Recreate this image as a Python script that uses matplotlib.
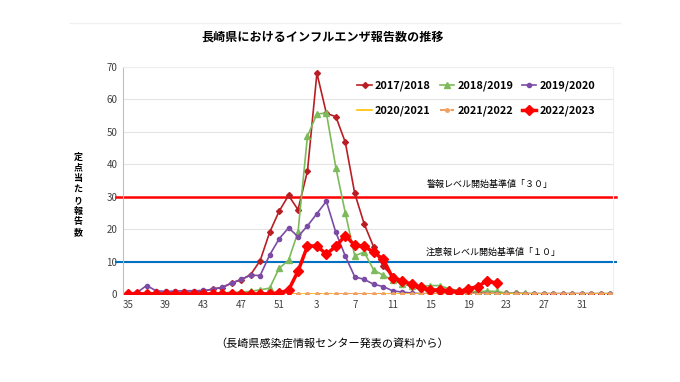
import numpy as np
import matplotlib
matplotlib.use('Agg')
import matplotlib.pyplot as plt

plt.rcParams['font.family'] = ['Noto Sans CJK JP', 'DejaVu Sans']

# 週番号 (35週〜翌年34週)
weeks = list(range(35, 53)) + list(range(1, 35))

# 各シーズンの定点当たり報告数
s2017 = [0.2, 0.2, 0.3, 0.3, 0.3, 0.4, 0.5, 0.6, 0.8, 1.6, 2.0, 3.4, 4.4, 6.0, 10.3, 19.0,
         25.5, 30.4, 26.0, 37.9, 68.1, 55.7, 54.7, 46.8, 31.0, 21.6, 14.5, 8.5, 5.5, 3.5, 2.2, 1.4,
         1.0, 0.7, 0.5, 0.4, 0.3, 0.3, 0.2, 0.2, 0.2, 0.2, 0.1, 0.1, 0.1, 0.1, 0.1, 0.1,
         0.1, 0.1, 0.1, 0.1]
s2018 = [0.2, 0.2, 0.2, 0.2, 0.2, 0.2, 0.2, 0.3, 0.3, 0.3, 0.4, 0.5, 0.6, 0.8, 1.3, 1.8,
         7.9, 10.4, 19.1, 48.7, 55.5, 55.8, 39.0, 25.0, 11.8, 12.9, 7.4, 5.8, 4.2, 3.2, 2.6, 2.3,
         2.6, 2.6, 1.6, 1.0, 0.8, 0.7, 0.9, 0.8, 0.3, 0.2, 0.2, 0.1, 0.1, 0.1, 0.1, 0.1,
         0.1, 0.1, 0.1, 0.1]
s2019 = [0.3, 0.5, 2.6, 1.0, 0.8, 0.9, 1.0, 1.0, 1.1, 1.4, 2.1, 3.4, 4.5, 5.8, 5.7, 12.0,
         17.0, 20.4, 17.7, 21.0, 24.8, 28.6, 19.0, 11.7, 5.3, 4.5, 3.0, 2.3, 1.0, 0.6, 0.3, 0.1,
         0.1, 0.1, 0.1, 0.1, 0.0, 0.0, 0.0, 0.0, 0.0, 0.0, 0.0, 0.0, 0.0, 0.0, 0.0, 0.0,
         0.0, 0.0, 0.0, 0.0]
s2020 = [0.0] * 52
s2021 = [0.0] * 52
s2022 = [0.0, 0.0, 0.0, 0.0, 0.0, 0.0, 0.0, 0.0, 0.0, 0.0, 0.0, 0.0, 0.0, 0.0, 0.0, 0.1,
         0.3, 1.2, 7.0, 14.8, 14.8, 12.3, 14.7, 18.0, 15.0, 14.8, 12.8, 10.8, 5.0, 4.1, 3.0, 2.1,
         1.2, 1.3, 1.0, 0.7, 1.6, 2.3, 4.1, 3.3]

seasons = ['2017/2018', '2018/2019', '2019/2020', '2020/2021', '2021/2022', '2022/2023']

warn_level = 30
alert_level = 10

fig = plt.figure(figsize=(6.8, 3.82), dpi=100)
ax = fig.add_axes([123 / 680, 1 - 294 / 382, 490 / 680, 227 / 382])

x = np.arange(len(weeks))

h1, = ax.plot(x, s2017, color='#B81E24', lw=1.2, marker='D', ms=3, label=seasons[0])
h2, = ax.plot(x, s2018, color='#7DBA5A', lw=1.2, marker='^', ms=4, label=seasons[1])
h3, = ax.plot(x, s2019, color='#7B4BA5', lw=1.2, marker='o', ms=3, label=seasons[2])
h4, = ax.plot(x, s2020, color='#FFC000', lw=1.2, label=seasons[3])
h5, = ax.plot(x, s2021, color='#F0A060', lw=1.5, ls=(0, (3, 2)), marker='o', ms=2.5,
              label=seasons[4])
h6, = ax.plot(np.arange(len(s2022)), s2022, color='#FF0000', lw=2.5, marker='D', ms=5,
              label=seasons[5])

# 基準値の横線
ax.plot([-1.2, 51.6], [warn_level, warn_level], color='#FF0000', lw=1.8, clip_on=False, zorder=1)
ax.plot([-1.2, 51.6], [alert_level, alert_level], color='#0070C0', lw=1.5, clip_on=False, zorder=1)
fig.text(427 / 680, 1 - 184 / 382, '警報レベル開始基準値「３０」', fontsize=6.5,
         va='center', ha='left')
fig.text(426 / 680, 1 - 252 / 382, '注意報レベル開始基準値「１０」', fontsize=6.5,
         va='center', ha='left')

ax.set_xlim(-0.5, 51.3)
ax.set_ylim(0, 70)
ax.set_yticks(range(0, 71, 10))
ax.set_xticks(x[::4])
ax.set_xticklabels([str(w) for w in weeks[::4]])
ax.tick_params(length=0, labelsize=7, colors='#404040', pad=4)
ax.grid(axis='y', color='#E4E4E4', lw=0.8)
ax.set_axisbelow(True)
for s in ['top', 'right']:
    ax.spines[s].set_color('#EEEEEE')
ax.spines['left'].set_color('#BFBFBF')
ax.spines['bottom'].set_visible(False)

# 凡例は横並び
leg = ax.legend([h1, h4, h2, h5, h3, h6], [seasons[0], seasons[3], seasons[1], seasons[4],
                seasons[2], seasons[5]], ncol=3, frameon=False,
                prop={'size': 7.9, 'weight': 'bold'},
                loc='upper right', bbox_to_anchor=(605 / 680, 1 - 71 / 382),
                bbox_transform=fig.transFigure, handlelength=1.3, handletextpad=0.3,
                columnspacing=0.8, labelspacing=1.3)

fig.text(323 / 680, 1 - 37 / 382, '長崎県におけるインフルエンザ報告数の推移', ha='center',
         va='center', fontsize=8.7, fontweight='bold')
fig.text(78 / 680, 1 - 195 / 382, '\n'.join('定点当たり報告数'), ha='center', va='center',
         fontsize=6.5, fontweight='bold', linespacing=1.25)
fig.text(332 / 680, 1 - 343 / 382, '（長崎県感染症情報センター発表の資料から）', ha='center',
         va='center', fontsize=8)
fig.add_artist(plt.Line2D([70 / 680, 620 / 680], [1 - 23 / 382, 1 - 23 / 382],
                          color='#F0F0F0', lw=1))

fig.savefig('out.png', dpi=100)
